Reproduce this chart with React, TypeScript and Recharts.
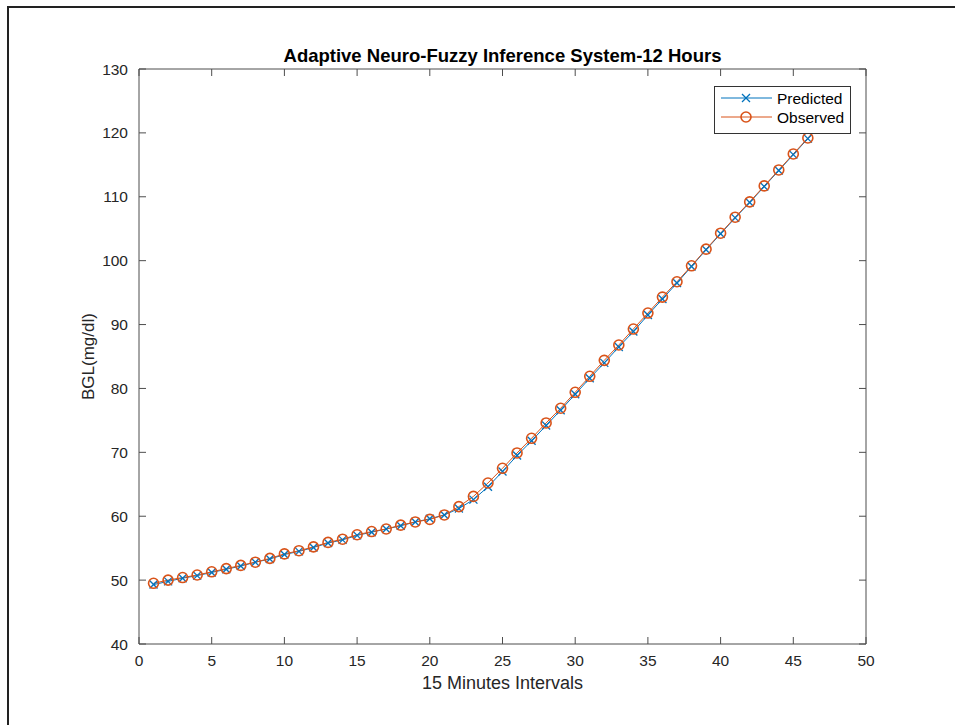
import { LineChart, Line, XAxis, YAxis, Legend, ReferenceLine } from 'recharts'

const intervals = [
  1, 2, 3, 4, 5, 6, 7, 8, 9, 10, 11, 12, 13, 14, 15, 16, 17, 18, 19, 20, 21, 22, 23, 24,
  25, 26, 27, 28, 29, 30, 31, 32, 33, 34, 35, 36, 37, 38, 39, 40, 41, 42, 43, 44, 45, 46, 47, 48,
]

const observed = [
  49.5, 50.0, 50.4, 50.8, 51.3, 51.8, 52.3, 52.8, 53.4, 54.1, 54.6, 55.2, 55.9, 56.4, 57.1, 57.6,
  58.0, 58.6, 59.1, 59.5, 60.2, 61.5, 63.1, 65.2, 67.5, 69.9, 72.2, 74.6, 76.9, 79.4, 81.9, 84.4,
  86.8, 89.3, 91.8, 94.3, 96.7, 99.2, 101.8, 104.3, 106.8, 109.2, 111.7, 114.2, 116.7, 119.2, 121.7, 124.2,
]

const predicted = [
  49.3, 49.8, 50.3, 50.7, 51.2, 51.7, 52.2, 52.8, 53.3, 54.0, 54.5, 55.1, 55.8, 56.3, 57.0, 57.5,
  58.0, 58.5, 59.1, 59.6, 60.2, 61.2, 62.6, 64.6, 67.0, 69.5, 71.8, 74.2, 76.6, 79.1, 81.6, 84.0,
  86.5, 88.9, 91.5, 94.0, 96.5, 99.1, 101.7, 104.2, 106.7, 109.1, 111.6, 114.1, 116.6, 119.1, 121.6, 124.1,
]

const xTicks = [0, 5, 10, 15, 20, 25, 30, 35, 40, 45, 50]
const yTicks = [40, 50, 60, 70, 80, 90, 100, 110, 120, 130]

const data = intervals.map((x, i) => ({ x, predicted: predicted[i], observed: observed[i] }))

const FONT = '"Liberation Sans", Arial, Helvetica, sans-serif'
const BLUE = '#0072BD'
const ORANGE = '#D95319'
const AXIS = '#4d4d4d'
const TEXT = '#262626'

// plot box in page pixels
const LEFT = 139
const TOP = 69
const RIGHT = 866
const BOTTOM = 644
const TICK_LEN = 7

const XTick = ({ x, y, payload }: any) => (
  <g>
    <line x1={x} x2={x} y1={BOTTOM} y2={BOTTOM - TICK_LEN} stroke={AXIS} />
    <line x1={x} x2={x} y1={TOP} y2={TOP + TICK_LEN} stroke={AXIS} />
    <text x={x} y={y} dy="0.71em" textAnchor="middle" fill={TEXT} fontSize={15.5} fontFamily={FONT}>
      {payload.value}
    </text>
  </g>
)

const YTick = ({ x, y, payload }: any) => (
  <g>
    <line x1={LEFT} x2={LEFT + TICK_LEN} y1={y} y2={y} stroke={AXIS} />
    <line x1={RIGHT} x2={RIGHT - TICK_LEN} y1={y} y2={y} stroke={AXIS} />
    <text x={x} y={y} dy="0.355em" textAnchor="end" fill={TEXT} fontSize={15.5} fontFamily={FONT}>
      {payload.value}
    </text>
  </g>
)

const CrossDot = ({ cx, cy }: any) => {
  if (cx == null || cy == null) return null
  const s = 4
  return (
    <g>
      <line x1={cx - s} y1={cy - s} x2={cx + s} y2={cy + s} stroke={BLUE} strokeWidth={1.3} />
      <line x1={cx - s} y1={cy + s} x2={cx + s} y2={cy - s} stroke={BLUE} strokeWidth={1.3} />
    </g>
  )
}

const CircleDot = ({ cx, cy }: any) => {
  if (cx == null || cy == null) return null
  return <circle cx={cx} cy={cy} r={5} fill="none" stroke={ORANGE} strokeWidth={1.6} />
}

const LegendBox = () => (
  <svg width={137} height={48} style={{ display: 'block' }}>
    <rect x={0.5} y={0.5} width={136} height={47} fill="#fff" stroke="#333" strokeWidth={1} />
    <line x1={7} x2={58} y1={12} y2={12} stroke={BLUE} strokeWidth={1} />
    <CrossDot cx={32} cy={12} />
    <text x={63} y={12} dy="0.355em" fontSize={15.5} fontFamily={FONT} fill="#000">Predicted</text>
    <line x1={7} x2={58} y1={31} y2={31} stroke={ORANGE} strokeWidth={1} />
    <CircleDot cx={32} cy={31} />
    <text x={63} y={31} dy="0.355em" fontSize={15.5} fontFamily={FONT} fill="#000">Observed</text>
  </svg>
)

export default function App() {
  return (
    <div style={{ position: 'absolute', left: 0, top: 0, width: 955, height: 725, background: '#fff' }}>
      <div
        style={{
          position: 'absolute',
          left: 7,
          top: 6,
          width: 960,
          height: 730,
          borderLeft: '2px solid #222',
          borderTop: '2px solid #222',
        }}
      />
      <div
        style={{
          position: 'absolute',
          left: LEFT,
          width: RIGHT - LEFT,
          top: 45,
          textAlign: 'center',
          fontFamily: FONT,
          fontWeight: 'bold',
          fontSize: 18.5,
          color: '#000',
          lineHeight: '22px',
        }}
      >
        Adaptive Neuro-Fuzzy Inference System-12 Hours
      </div>
      <div style={{ position: 'absolute', left: 0, top: 0 }}>
        <LineChart
          width={955}
          height={725}
          data={data}
          margin={{ top: TOP, right: 955 - RIGHT, left: LEFT - 60, bottom: 725 - BOTTOM - 20 }}
        >
          <XAxis
            dataKey="x"
            type="number"
            domain={[0, 50]}
            ticks={xTicks}
            allowDataOverflow
            height={20}
            tickLine={false}
            tickSize={6}
            tickMargin={5}
            tick={<XTick />}
            axisLine={{ stroke: AXIS }}
            label={{
              value: '15 Minutes Intervals',
              position: 'bottom',
              offset: 12,
              fill: TEXT,
              fontSize: 18,
              fontFamily: FONT,
            }}
          />
          <YAxis
            type="number"
            domain={[40, 130]}
            ticks={yTicks}
            allowDataOverflow
            width={60}
            tickLine={false}
            tickSize={6}
            tickMargin={5}
            tick={<YTick />}
            axisLine={{ stroke: AXIS }}
            label={{
              value: 'BGL(mg/dl)',
              angle: -90,
              position: 'insideLeft',
              offset: 9,
              fill: TEXT,
              fontSize: 17,
              fontFamily: FONT,
              style: { textAnchor: 'middle' },
            }}
          />
          <ReferenceLine y={130} stroke={AXIS} />
          <ReferenceLine x={50} stroke={AXIS} />
          <Line
            dataKey="predicted"
            stroke={BLUE}
            strokeWidth={1}
            dot={<CrossDot />}
            activeDot={false}
            isAnimationActive={false}
          />
          <Line
            dataKey="observed"
            stroke={ORANGE}
            strokeWidth={1}
            dot={<CircleDot />}
            activeDot={false}
            isAnimationActive={false}
          />
          <Legend
            layout="vertical"
            align="center"
            verticalAlign="middle"
            content={<LegendBox />}
            wrapperStyle={{ left: 714, top: 86, width: 137, height: 48 }}
          />
        </LineChart>
      </div>
    </div>
  )
}
